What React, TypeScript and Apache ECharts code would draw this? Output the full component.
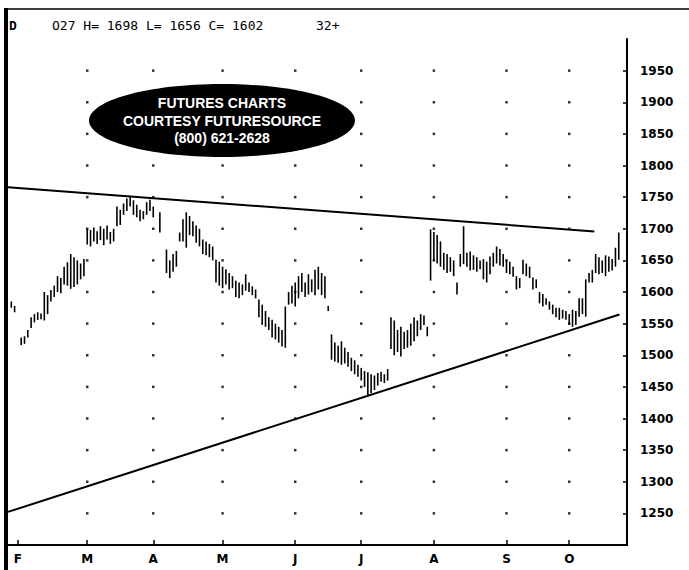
import React, { useEffect, useRef } from "react";
import * as echarts from "echarts";

// Trading-day index (0 = first trading day of February)
const days = [
  -2, -1, 1, 2, 3, 4, 5, 6, 7, 8, 9, 10, 11, 12, 13, 14, 15, 16, 17, 18, 19, 20,
  21, 22, 23, 24, 25, 26, 27, 28, 29, 30, 31, 32, 33, 34, 35, 36, 37, 38, 39, 40, 41, 43,
  45, 46, 47, 48, 49, 50, 51, 52, 53, 54, 55, 56, 57, 58, 59, 60, 61,
  62, 63, 64, 65, 66, 67, 68, 69, 70, 71, 72, 73, 74, 75, 76, 77, 78, 79, 80, 81, 82, 83,
  84, 85, 86, 87, 88, 89, 90, 91, 92, 93, 94, 95, 96, 97, 98, 99, 100, 101, 102, 103, 104,
  105, 106, 107, 108, 109, 110, 111, 112, 113, 114, 115, 116, 117, 118, 119, 120, 121, 122, 123, 124,
  125, 126, 127, 128, 129, 130, 131, 132, 133, 134, 135, 136, 137, 138, 139, 140, 141, 142, 143, 144, 145, 146, 147,
  148, 149, 150, 151, 152, 153, 154, 155, 156, 157, 158, 159, 160, 161, 162, 163, 164, 165, 166,
  167, 168, 169, 170, 171, 172, 173, 174, 175, 176, 177, 178, 179, 180, 181, 182,
];
const highs = [
  1585, 1578, 1528, 1530, 1540, 1560, 1565, 1568, 1566, 1600, 1595, 1603, 1610, 1625, 1622, 1640, 1647, 1660, 1655, 1650, 1645, 1652,
  1700, 1698, 1702, 1696, 1704, 1700, 1705, 1695, 1700, 1735, 1730, 1740, 1748, 1752, 1745, 1738, 1730, 1728, 1742, 1746, 1735, 1726,
  1667, 1650, 1660, 1665, 1694, 1715, 1726, 1720, 1712, 1705, 1700, 1683, 1680, 1676, 1672, 1651, 1648,
  1640, 1636, 1630, 1625, 1618, 1615, 1612, 1628, 1615, 1609, 1604, 1588, 1580, 1570, 1560, 1556, 1550, 1545, 1540, 1577, 1600, 1610,
  1615, 1625, 1630, 1615, 1628, 1620, 1635, 1640, 1630, 1625, 1578, 1533, 1520, 1515, 1522, 1512, 1505, 1496, 1492, 1485, 1480,
  1475, 1473, 1470, 1468, 1472, 1474, 1470, 1478, 1560, 1555, 1540, 1545, 1537, 1540, 1550, 1560, 1555, 1565, 1563, 1545,
  1699, 1695, 1690, 1680, 1662, 1660, 1655, 1650, 1615, 1660, 1704, 1662, 1664, 1658, 1655, 1650, 1652, 1648, 1656, 1662, 1672, 1668, 1660,
  1650, 1648, 1640, 1625, 1622, 1651, 1645, 1640, 1623, 1620, 1600, 1597, 1590, 1585, 1580, 1575, 1575, 1572, 1570,
  1565, 1572, 1570, 1590, 1590, 1620, 1630, 1635, 1660, 1655, 1650, 1658, 1656, 1652, 1670, 1694,
];
const lows = [
  1575, 1568, 1516, 1518, 1528, 1543, 1552, 1556, 1557, 1555, 1565, 1585, 1592, 1600, 1598, 1612, 1610, 1605, 1608, 1612, 1620, 1625,
  1675, 1672, 1680, 1676, 1682, 1674, 1683, 1676, 1680, 1704, 1706, 1722, 1728, 1735, 1722, 1718, 1712, 1715, 1722, 1728, 1718, 1694,
  1630, 1622, 1632, 1640, 1680, 1680, 1670, 1690, 1688, 1678, 1672, 1660, 1658, 1655, 1650, 1615, 1610,
  1606, 1612, 1604, 1606, 1592, 1590, 1595, 1602, 1600, 1595, 1590, 1560, 1548, 1545, 1540, 1528, 1525, 1520, 1514, 1512, 1580, 1582,
  1577, 1590, 1600, 1592, 1596, 1600, 1595, 1604, 1595, 1590, 1570, 1493, 1490, 1488, 1485, 1487, 1482, 1475, 1470, 1466, 1460,
  1450, 1437, 1440, 1445, 1452, 1458, 1456, 1460, 1510, 1500, 1505, 1498, 1510, 1512, 1515, 1522, 1530, 1540, 1548, 1530,
  1618, 1650, 1645, 1640, 1635, 1630, 1632, 1625, 1596, 1640, 1644, 1640, 1634, 1635, 1632, 1636, 1620, 1615, 1628, 1640, 1645, 1642, 1640,
  1630, 1628, 1624, 1604, 1606, 1628, 1625, 1622, 1604, 1606, 1582, 1577, 1580, 1572, 1565, 1560, 1556, 1558, 1556,
  1548, 1545, 1548, 1561, 1565, 1561, 1615, 1615, 1630, 1628, 1630, 1625, 1632, 1634, 1640, 1651,
];

// Trend lines: [day, price]
const upperTrend = [[-3, 1765.6], [174.6, 1695.7]];
const lowerTrend = [[-3, 1252.3], [182.2, 1564.4]];

// Month ticks
const monthDays = [0, 21, 41, 62, 84, 104, 126, 148, 167];
const monthLabels = ["F", "M", "A", "M", "J", "J", "A", "S", "O"];

// Price ticks
const priceTicks = [1250, 1300, 1350, 1400, 1450, 1500, 1550, 1600, 1650, 1700, 1750, 1800, 1850, 1900, 1950];

const headerCode = "D";
const headerText = "O27 H= 1698 L= 1656 C= 1602";
const headerChange = "32+";
const logoLines = ["FUTURES CHARTS", "COURTESY FUTURESOURCE", "(800) 621-2628"];

export default function App() {
  const ref = useRef<HTMLDivElement>(null);
  useEffect(() => {
    if (!ref.current) return;
    const chart = echarts.init(ref.current, null, { renderer: "svg" });
    const barData = days.map((d, i) => [d, highs[i], lows[i]]);
    const dotData: number[][] = [];
    monthDays.slice(1).forEach((d) => priceTicks.forEach((p) => dotData.push([d, p])));

    const axisFont = { fontFamily: "DejaVu Sans", fontWeight: "bold" as const, color: "#000" };

    chart.setOption({
      animation: false,
      backgroundColor: "#fff",
      grid: { left: 8, right: 62, top: 39, bottom: 25 },
      xAxis: {
        type: "value",
        min: -3,
        max: 184.5,
        splitLine: { show: false },
        axisLine: { onZero: false, lineStyle: { color: "#000", width: 2 } },
        axisTick: {
          inside: true,
          length: 5,
          customValues: monthDays,
          lineStyle: { color: "#000", width: 1.5 },
        },
        axisLabel: {
          customValues: monthDays,
          margin: 8,
          fontSize: 12,
          ...axisFont,
          formatter: (v: number) => {
            const i = monthDays.indexOf(Math.round(v));
            return i >= 0 ? monthLabels[i] : "";
          },
        },
      },
      yAxis: {
        type: "value",
        position: "right",
        min: 1200,
        max: 2000,
        interval: 50,
        splitLine: { show: false },
        axisLine: { show: true, onZero: false, lineStyle: { color: "#000", width: 2 } },
        axisTick: { inside: true, length: 4, lineStyle: { color: "#000", width: 1.5 } },
        axisLabel: {
          showMinLabel: false,
          showMaxLabel: false,
          margin: 13,
          fontSize: 12,
          ...axisFont,
          formatter: (v: number) => String(v),
        },
      },
      series: [
        {
          type: "scatter",
          data: dotData,
          symbol: "rect",
          symbolSize: 2.5,
          itemStyle: { color: "#000" },
          silent: true,
          z: 1,
        },
        {
          type: "custom",
          data: barData,
          encode: { x: 0, y: [1, 2] },
          renderItem: (params: any, api: any) => {
            const x = api.value(0);
            const hi = api.coord([x, api.value(1)]);
            const lo = api.coord([x, api.value(2)]);
            return {
              type: "line",
              shape: { x1: hi[0], y1: hi[1], x2: lo[0], y2: lo[1] },
              style: { stroke: "#000", lineWidth: 1.6 },
            };
          },
          z: 3,
        },
        {
          type: "line",
          data: upperTrend,
          symbol: "none",
          lineStyle: { color: "#000", width: 2 },
          z: 2,
        },
        {
          type: "line",
          data: lowerTrend,
          symbol: "none",
          lineStyle: { color: "#000", width: 2 },
          z: 2,
        },
      ],
      graphic: [
        { type: "line", shape: { x1: 6, y1: 8, x2: 6, y2: 570 }, style: { stroke: "#000", lineWidth: 4 } },
        { type: "line", shape: { x1: 4, y1: 9, x2: 689, y2: 9 }, style: { stroke: "#000", lineWidth: 1.5 } },
        {
          type: "text",
          x: 9,
          y: 25,
          style: { text: headerCode, font: "bold 13px 'DejaVu Sans Mono'", fill: "#000", verticalAlign: "middle" },
        },
        {
          type: "text",
          x: 52,
          y: 25,
          style: { text: headerText, font: "13px 'DejaVu Sans Mono'", fill: "#000", verticalAlign: "middle" },
        },
        {
          type: "text",
          x: 316,
          y: 25,
          style: { text: headerChange, font: "13px 'DejaVu Sans Mono'", fill: "#000", verticalAlign: "middle" },
        },
        {
          type: "ellipse",
          shape: { cx: 222, cy: 120.5, rx: 133, ry: 36.5 },
          style: { fill: "#000" },
          z: 10,
        },
        ...logoLines.map((t, i) => ({
          type: "text",
          x: 222,
          y: 103 + i * 17.5,
          z: 11,
          style: {
            text: t,
            font: "bold 14px 'Liberation Sans'",
            fill: "#fff",
            align: "center",
            verticalAlign: "middle",
          },
        })),
      ],
    });
    return () => chart.dispose();
  }, []);
  return (
    <div
      ref={ref}
      style={{ position: "fixed", left: 0, top: 0, width: 689, height: 570, background: "#fff" }}
    />
  );
}
